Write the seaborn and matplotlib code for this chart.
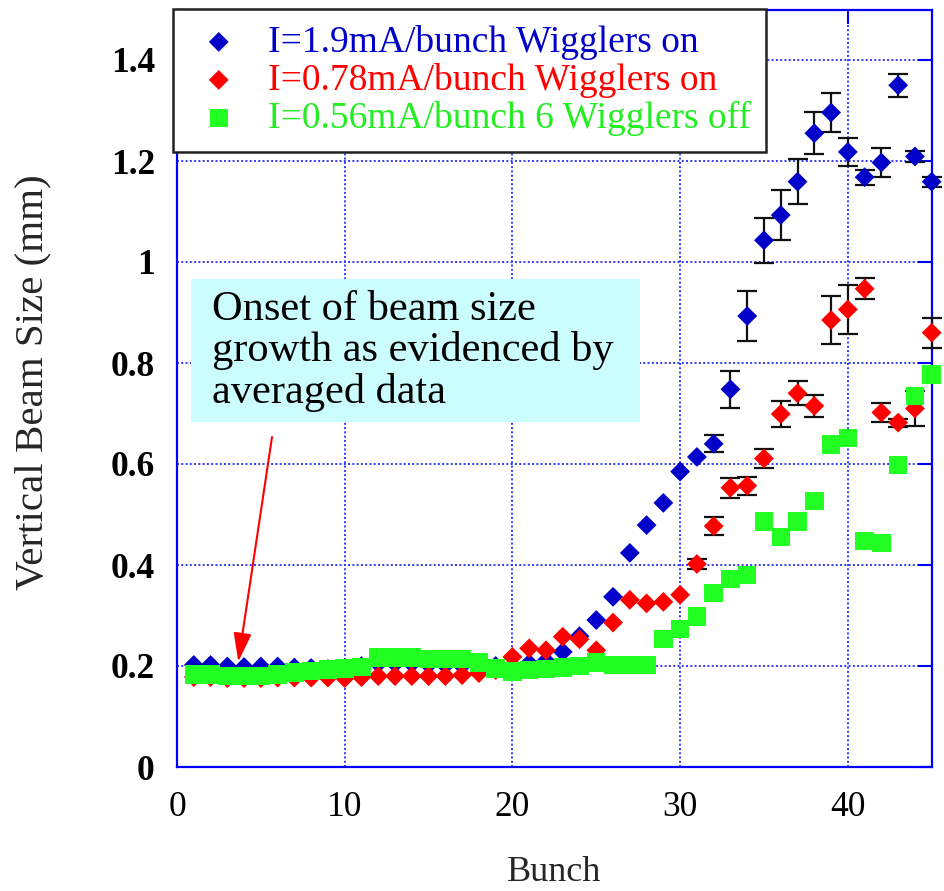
import numpy as np
import pandas as pd
import matplotlib
matplotlib.use("Agg")
import matplotlib.pyplot as plt
import seaborn as sns
from matplotlib.patches import Rectangle
from matplotlib.ticker import FuncFormatter

# ---------------- data ----------------
bunch = list(range(1, 46))

size_19 = [0.202, 0.202, 0.199, 0.198, 0.199, 0.199, 0.197, 0.196, 0.194, 0.196,
           0.200, 0.205, 0.205, 0.205, 0.203, 0.202, 0.201, 0.200, 0.200, 0.200,
           0.205, 0.210, 0.228, 0.259, 0.291, 0.337, 0.424, 0.479, 0.523, 0.585,
           0.614, 0.640, 0.748, 0.893, 1.043, 1.093, 1.159, 1.255, 1.296, 1.218,
           1.168, 1.197, 1.350, 1.209, 1.159]
err_19 = [0] * 31 + [0.017, 0.037, 0.050, 0.045, 0.050, 0.045, 0.042, 0.038, 0.028,
                     0.015, 0.028, 0.023, 0.010, 0.010]

size_078 = [0.178, 0.178, 0.176, 0.176, 0.176, 0.177, 0.177, 0.177, 0.177, 0.176,
            0.178, 0.180, 0.180, 0.180, 0.180, 0.180, 0.182, 0.186, 0.192, 0.218,
            0.235, 0.231, 0.258, 0.253, 0.231, 0.286, 0.331, 0.324, 0.327, 0.341,
            0.402, 0.477, 0.553, 0.557, 0.611, 0.699, 0.740, 0.715, 0.885, 0.906,
            0.947, 0.702, 0.682, 0.710, 0.860]
err_078 = [0] * 30 + [0.010, 0.018, 0.020, 0.018, 0.019, 0.025, 0.024, 0.022, 0.048,
                      0.049, 0.021, 0.019, 0.008, 0.035, 0.030]

size_056 = [0.183, 0.183, 0.180, 0.180, 0.180, 0.183, 0.187, 0.190, 0.193, 0.195,
            0.198, 0.217, 0.217, 0.217, 0.214, 0.214, 0.214, 0.207, 0.195, 0.189,
            0.192, 0.194, 0.197, 0.200, 0.207, 0.202, 0.202, 0.202, 0.253, 0.273,
            0.298, 0.344, 0.372, 0.380, 0.486, 0.456, 0.486, 0.527, 0.639, 0.651,
            0.448, 0.444, 0.598, 0.735, 0.777]

labels = ["I=1.9mA/bunch Wigglers on",
          "I=0.78mA/bunch Wigglers on",
          "I=0.56mA/bunch 6 Wigglers off"]
colors = ["#0000c8", "#ff0000", "#22ff22"]
text_colors = ["#0000c8", "#ff0000", "#22ee22"]

x_ticks = [0, 10, 20, 30, 40]
y_ticks = [0, 0.2, 0.4, 0.6, 0.8, 1.0, 1.2, 1.4]

note = "Onset of beam size\ngrowth as evidenced by\naveraged data"

# ---------------- style ----------------
sns.set_style("white")
plt.rcParams["font.family"] = ["Liberation Serif", "DejaVu Serif"]

W, H = 944, 891
fig = plt.figure(figsize=(W / 100, H / 100), dpi=100)
ax = fig.add_axes([177 / W, 1 - 767 / H, (931.7 - 177) / W, (767 - 9.5) / H])

spine_blue = "#0000ff"
grid_blue = "#3535ff"

df1 = pd.DataFrame({"bunch": bunch, "size": size_19, "err": err_19})
df2 = pd.DataFrame({"bunch": bunch, "size": size_078, "err": err_078})
df3 = pd.DataFrame({"bunch": bunch, "size": size_056})

# error bars (behind markers)
for df, z in ((df1, 3), (df2, 5)):
    m = df["err"] > 0
    eb = ax.errorbar(df.loc[m, "bunch"], df.loc[m, "size"], yerr=df.loc[m, "err"],
                     fmt="none", ecolor="#111111", elinewidth=1.6, capsize=7,
                     capthick=1.6, zorder=z)
    for part in list(eb.lines[1]) + list(eb.lines[2]):
        part.set_clip_on(False)

sns.scatterplot(data=df1, x="bunch", y="size", marker="D", s=102,
                color=colors[0], edgecolor="none", linewidth=0, ax=ax,
                label=labels[0], zorder=4, clip_on=False)
sns.scatterplot(data=df2, x="bunch", y="size", marker="D", s=102,
                color=colors[1], edgecolor="none", linewidth=0, ax=ax,
                label=labels[1], zorder=6, clip_on=False)
sns.scatterplot(data=df3, x="bunch", y="size", marker="s", s=176,
                color=colors[2], edgecolor="none", linewidth=0, ax=ax,
                label=labels[2], zorder=7, clip_on=False)

ax.set_xlim(0, 45)
ax.set_ylim(0, 1.5)
ax.set_xticks(x_ticks)
ax.set_yticks(y_ticks)
ax.yaxis.set_major_formatter(FuncFormatter(lambda v, p: "%g" % v))

for s in ax.spines.values():
    s.set_color(spine_blue)
    s.set_linewidth(1.6)
    s.set_visible(True)

ax.tick_params(axis="both", which="major", direction="in", length=10, width=1.5,
               color=spine_blue, top=True, right=True)
ax.tick_params(axis="x", labelsize=25.5, pad=17, labelcolor="black")
ax.tick_params(axis="y", labelsize=25.5, pad=16, labelcolor="black")
for lab in ax.get_yticklabels():
    lab.set_fontweight("bold")

ax.grid(True, color=grid_blue, linestyle=(0, (1, 1.2)), linewidth=1.4, zorder=1)
ax.set_axisbelow(True)

ax.set_xlabel("Bunch", fontsize=26)
ax.xaxis.set_label_coords(0.5, -0.117)
ax.set_ylabel("Vertical Beam Size (mm)", fontsize=29.5, va="center")
ax.yaxis.set_label_coords((33 - 177) / 754.7, 0.508)

# annotation box and text
ax.add_patch(Rectangle((0.0186, 0.4558), 0.595, 0.1884, transform=ax.transAxes,
                       facecolor="#ccfdfe", edgecolor="none", zorder=2))
ax.text(0.046, (767 - 403) / 757.5, note, transform=ax.transAxes, fontsize=30.5,
        va="baseline", ha="left", color="black", linespacing=1.09, zorder=3)
ax.annotate("", xy=(0.0812, 0.139), xytext=(0.1259, 0.4356),
            xycoords="axes fraction", textcoords="axes fraction",
            arrowprops=dict(arrowstyle="-|>,head_length=0.8,head_width=0.25",
                            color="red", lw=1.5, mutation_scale=22,
                            shrinkA=0, shrinkB=0), zorder=8)

# legend
leg = ax.legend(loc="upper left", bbox_to_anchor=(173 / W, 1 - 9 / H),
                bbox_transform=fig.transFigure, borderaxespad=0,
                fontsize=27, frameon=True, fancybox=False, framealpha=1,
                edgecolor="#222222", facecolor="white", labelspacing=0.08,
                handlelength=1.6, handletextpad=0.5, borderpad=0.42,
                markerscale=1.0, labelcolor=text_colors)
leg.get_frame().set_linewidth(1.8)
leg.set_zorder(20)

fig.savefig("out.png", dpi=100)
